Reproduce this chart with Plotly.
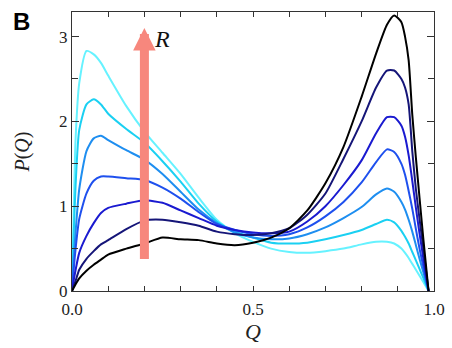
import plotly.graph_objects as go

Q = [0, 0.005, 0.01, 0.02, 0.04, 0.06, 0.08, 0.1, 0.15, 0.2, 0.25, 0.3, 0.35, 0.4, 0.45, 0.5,
     0.55, 0.6, 0.65, 0.7, 0.75, 0.8, 0.84, 0.87, 0.89, 0.91, 0.92, 0.93, 0.94, 0.95, 0.96, 0.97, 0.985]

P1 = [0, 1.0, 1.8, 2.45, 2.83, 2.79, 2.69, 2.54, 2.18, 1.88, 1.63, 1.38, 1.1, 0.84, 0.68, 0.58,
      0.5, 0.46, 0.45, 0.47, 0.5, 0.55, 0.58, 0.58, 0.56, 0.5, 0.45, 0.39, 0.32, 0.25, 0.18, 0.11, 0]
P2 = [0, 0.7, 1.25, 1.9, 2.2, 2.26, 2.2, 2.09, 1.91, 1.75, 1.53, 1.29, 1.03, 0.82, 0.7, 0.63,
      0.57, 0.56, 0.57, 0.61, 0.66, 0.72, 0.79, 0.84, 0.81, 0.71, 0.64, 0.56, 0.46, 0.36, 0.26, 0.16, 0]
P3 = [0, 0.4, 0.7, 1.2, 1.65, 1.8, 1.83, 1.78, 1.66, 1.55, 1.38, 1.17, 0.96, 0.8, 0.69, 0.63,
      0.61, 0.62, 0.67, 0.75, 0.86, 0.99, 1.14, 1.21, 1.17, 1.05, 0.96, 0.84, 0.7, 0.54, 0.38, 0.23, 0]
P4 = [0, 0.27, 0.5, 0.85, 1.15, 1.3, 1.35, 1.35, 1.33, 1.31, 1.22, 1.09, 0.93, 0.79, 0.72, 0.67,
      0.65, 0.67, 0.75, 0.88, 1.05, 1.28, 1.52, 1.67, 1.64, 1.5, 1.37, 1.18, 0.97, 0.73, 0.5, 0.3, 0]
P5 = [0, 0.13, 0.25, 0.45, 0.65, 0.8, 0.92, 0.98, 1.03, 1.07, 1.04, 0.95, 0.86, 0.77, 0.72, 0.69,
      0.68, 0.7, 0.82, 1.0, 1.25, 1.54, 1.86, 2.05, 2.05, 1.95, 1.82, 1.6, 1.3, 0.98, 0.68, 0.4, 0]
P6 = [0, 0.06, 0.12, 0.25, 0.38, 0.47, 0.55, 0.6, 0.73, 0.83, 0.84, 0.81, 0.77, 0.7, 0.67, 0.66,
      0.68, 0.74, 0.9, 1.15, 1.56, 2.0, 2.4, 2.6, 2.6, 2.5, 2.4, 2.2, 1.65, 1.2, 0.85, 0.52, 0]
P7 = [0, 0.04, 0.08, 0.15, 0.24, 0.31, 0.37, 0.43, 0.5, 0.56, 0.63, 0.61, 0.6, 0.56, 0.54, 0.57,
      0.63, 0.74, 0.95, 1.27, 1.7, 2.29, 2.8, 3.14, 3.25, 3.17, 3.0, 2.72, 2.08, 1.57, 1.1, 0.64, 0]

series = [P1, P2, P3, P4, P5, P6, P7]
colors = ["#66f2ff", "#1ad0f2", "#1e8ef0", "#1e50ee", "#1a1ad0", "#151578", "#000000"]

x_tickvals = [0, 0.5, 1.0]
x_ticktext = ["0.0", "0.5", "1.0"]
y_tickvals = [0, 1, 2, 3]

arrow_q = 0.2
arrow_from = 0.36
arrow_to = 3.1

fig = go.Figure()
for p, c in zip(series, colors):
    fig.add_trace(go.Scatter(x=Q, y=p, mode="lines",
                             line=dict(color=c, width=2, shape="spline", smoothing=0.6),
                             showlegend=False, hoverinfo="skip"))

fig.add_annotation(x=arrow_q, y=arrow_to, ax=arrow_q, ay=arrow_from,
                   xref="x", yref="y", axref="x", ayref="y",
                   text="", showarrow=True, arrowhead=2, arrowsize=0.5,
                   arrowwidth=9, arrowcolor="#f7877d", standoff=0, startstandoff=0)
fig.add_annotation(x=0.222, y=2.97, xref="x", yref="y", text="<i>R</i>",
                   showarrow=False, xanchor="left", yanchor="middle",
                   font=dict(family="Liberation Serif", size=24, color="#111"))
fig.add_annotation(x=-0.168, y=1.02, xref="paper", yref="paper", text="<b>B</b>",
                   showarrow=False, xanchor="left", yanchor="top",
                   font=dict(family="Liberation Sans", size=24, color="#000"))

axis_common = dict(showline=True, linecolor="#333", linewidth=1, mirror="ticks",
                   ticks="inside", tickcolor="#333", showgrid=False, zeroline=False,
                   automargin=False,
                   tickfont=dict(family="Liberation Serif", size=17, color="#222"))

fig.update_xaxes(range=[0, 1.0], tickvals=x_tickvals, ticktext=x_ticktext, ticklen=5,
                 ticklabelstandoff=3,
                 minor=dict(dtick=0.1, ticks="inside", ticklen=5, tickcolor="#333"),
                 title=dict(text="<i>Q</i>", font=dict(family="Liberation Serif", size=22, color="#222"),
                            standoff=3),
                 **axis_common)
fig.update_yaxes(range=[0, 3.29], tickvals=y_tickvals, ticklen=7,
                 minor=dict(dtick=0.5, ticks="inside", ticklen=6, tickcolor="#333"),
                 title=dict(text="<i>P</i>(<i>Q</i>)", font=dict(family="Liberation Serif", size=20, color="#222"),
                            standoff=24),
                 **axis_common)

fig.update_layout(width=452, height=348, margin=dict(l=72, r=18, t=12, b=57),
                  paper_bgcolor="white", plot_bgcolor="white")

fig.write_html("out.html", config={"displayModeBar": False})
with open("out.html", "r", encoding="utf-8") as f:
    html = f.read()
html = html.replace("<body>", '<body style="margin:0;padding:0;">', 1)
with open("out.html", "w", encoding="utf-8") as f:
    f.write(html)
